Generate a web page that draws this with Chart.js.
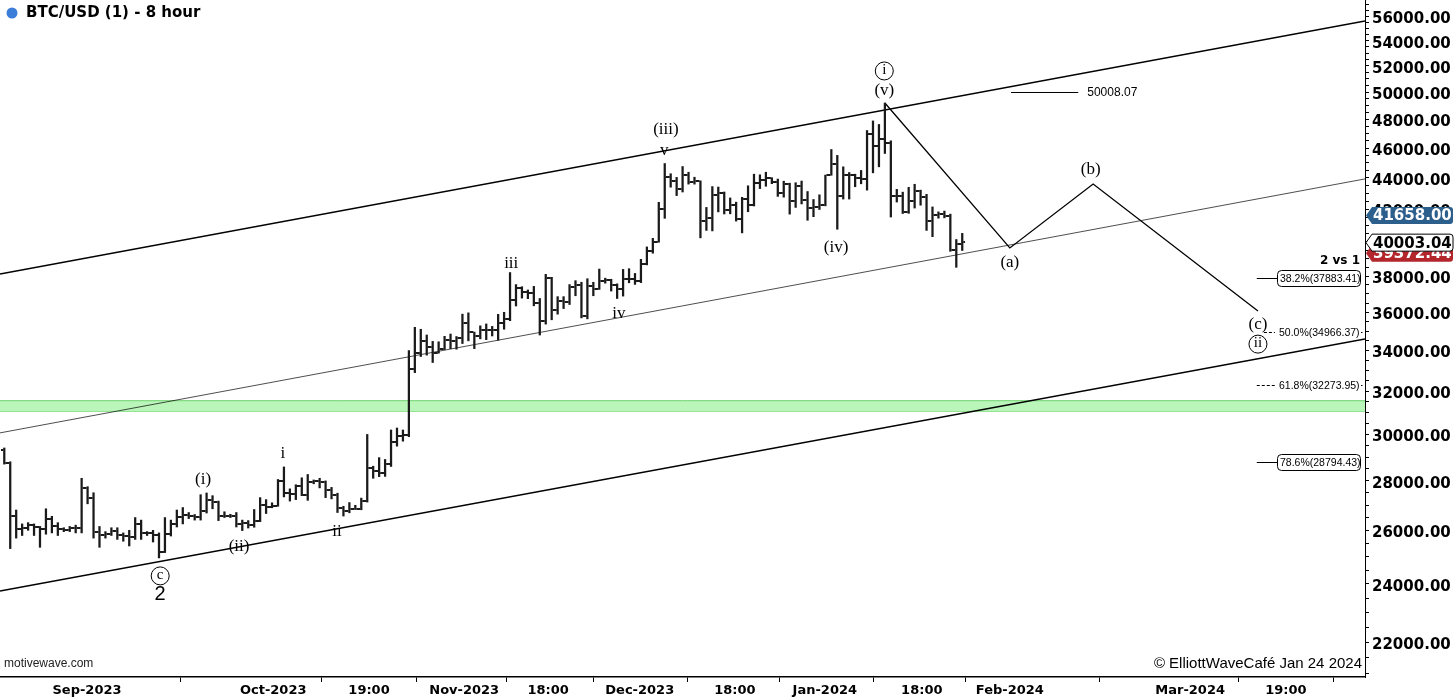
<!DOCTYPE html>
<html>
<head>
<meta charset="utf-8">
<script src="https://cdn.jsdelivr.net/npm/chart.js@4.4.1/dist/chart.umd.min.js"></script>
<style>
html, body { margin: 0; padding: 0; background: #fff; }
#wrap { width: 1456px; height: 699px; position: relative; }
</style>
</head>
<body>
<div id="wrap"><canvas id="myChart"></canvas></div>
<script>
// one bar per day, day 0 = 1 Oct 2023, first bar = 16 Aug 2023
const firstDay = -46;

const opens = [
29300,28750,26550,26050,26100,26190,26120,26050,26450,26150,
26050,26000,26090,26100,27700,27300,25940,25800,25870,25970,
25820,25780,25750,26240,25900,25890,25830,25160,25850,26230,
26530,26610,26570,26530,26760,27210,27130,26570,26580,26580,
26250,26300,26220,26370,27020,26910,26970,27980,27500,27430,
27790,27420,27950,27970,27930,27600,27390,26870,26760,26860,
26860,27160,28520,28420,28330,28720,29680,29920,29990,33090,
33900,34500,34160,33900,34100,34530,34500,34670,35440,34940,
34730,35080,35050,35040,35430,35650,36690,37310,37130,37060,
36490,35550,37880,36150,36600,36570,37390,37470,35810,37420,
37290,37720,37800,37480,37250,37830,37860,37720,38690,39460,
39980,41980,44080,43770,43290,44170,43730,43790,41240,41450,
42890,43020,41930,42240,41360,42660,42270,43650,43860,43990,
43740,43020,43610,42520,43440,42580,42070,42140,42280,44180,
44940,42850,44180,44160,43970,43930,46970,46120,46630,46370,
42850,42840,41800,42510,43150,42740,41260,41620,41660,41580,
39510,39870];
const highs = [
29400,28800,26800,26250,26300,26250,26150,26850,26550,26300,
26100,26150,26200,28100,27750,27500,26150,25950,26100,26100,
25900,26000,26500,26400,25950,26000,25900,26500,26400,26800,
26900,26700,26620,27420,27490,27380,27160,26730,26630,26700,
26400,26380,26820,27300,27220,27090,28050,28580,27660,27830,
28120,28260,28030,28100,27990,27720,27480,26950,27100,26990,
27280,30000,28610,28980,28900,30200,30290,30200,34000,35200,
35100,34800,34470,34450,34730,34850,34720,35900,35970,34950,
35280,35380,35250,35890,36000,38200,37520,37400,37220,37420,
36750,38100,37930,36850,36850,37520,37740,37650,37850,37650,
38400,37880,37820,37560,38380,38420,38150,38960,39690,40200,
42420,44950,44270,44030,44750,44370,44040,43800,42100,43430,
43400,43080,42700,42430,42740,43480,44240,44200,44370,44010,
43920,43780,43650,43680,43790,43110,42600,42900,44180,45900,
45500,44730,44350,44240,44490,47220,47900,47650,49200,46500,
43250,43070,43380,43580,43200,42930,42130,41820,41870,41680,
40130,40500];
const lows = [
28700,25300,25700,25800,26000,25800,25350,25850,25900,25800,
25950,25950,25900,25900,27050,25700,25350,25700,25800,25650,
25580,25400,25650,25650,25800,25550,24950,25150,25780,26130,
26250,26460,26400,26400,26680,26850,26380,26500,26500,26130,
25990,26090,26120,26340,26660,26890,26950,27330,27160,27220,
27380,27190,27870,27700,27300,27250,26700,26560,26690,26820,
26810,27120,28100,28170,28180,28600,29480,29700,29900,32900,
33700,33770,33400,33870,34050,34100,34070,34360,34500,34100,
34600,34560,34750,34530,35100,35550,36340,36770,36740,36350,
34800,35370,35600,35900,36200,36420,36900,35700,35650,36900,
37250,37600,37160,36750,36880,37620,37530,37630,38640,39320,
39970,41420,43390,42850,43080,43590,43590,40230,40680,40650,
41820,41690,41700,41250,40530,41830,42190,43300,43450,43620,
42800,42750,41680,42100,42320,41300,41520,41970,42200,44170,
40750,42630,42630,43420,43610,43200,44330,44730,45630,41500,
42440,41720,41730,42060,42240,40680,40300,41430,41450,39430,
38500,39480];
const closes = [
28750,26550,26050,26100,26190,26120,26050,26450,26150,26050,
26000,26090,26100,27700,27300,25940,25800,25870,25970,25820,
25780,25750,26240,25900,25890,25830,25160,25850,26230,26530,
26610,26570,26530,26760,27210,27130,26570,26580,26580,26250,
26300,26220,26370,27020,26910,26970,27980,27500,27430,27790,
27420,27950,27970,27930,27600,27390,26870,26760,26860,26860,
27160,28520,28420,28330,28720,29680,29920,29990,33090,33900,
34500,34160,33900,34100,34530,34500,34670,35440,34940,34730,
35080,35050,35040,35430,35650,36690,37310,37130,37060,36490,
35550,37880,36150,36600,36570,37390,37470,35810,37420,37290,
37720,37800,37480,37250,37830,37860,37720,38690,39460,39980,
41980,44080,43770,43290,44170,43730,43790,41240,41450,42890,
43020,41930,42240,41360,42660,42270,43650,43860,43990,43740,
43020,43610,42520,43440,42580,42070,42140,42280,44180,44940,
42850,44180,44160,43970,43930,46970,46120,46630,46370,42850,
42840,41800,42510,43150,42740,41260,41620,41660,41580,39510,
39870,40003.04];

// axis
const xMin = -46.22, xMax = 183.19;
const yMin = 20888, yMax = 57376;
const xTickDays = [-31.6, -0.3, 15.8, 31.8, 45.9, 61.3, 77.3, 92.4, 108.7, 123.5, 153.8, 169.9];
const xTickLabels = ['Sep-2023','Oct-2023','19:00','Nov-2023','18:00','Dec-2023','18:00','Jan-2024','18:00','Feb-2024','Mar-2024','19:00'];
const yTickValues = [22000,24000,26000,28000,30000,32000,34000,36000,38000,40000,42000,44000,46000,48000,50000,52000,54000,56000];

// channel, zone and projection
const channelDays = [xMin, xMax];
const upperLine = [38120, 55610];
const middleLine = [30070, 43930];
const lowerLine = [23750, 34590];
const zoneRange = [31050, 31550];
const pathDays = [102.5, 123.5, 137.5, 165.2];
const pathPrices = [49200, 39630, 43600, 36070];
const targetDays = [123.7, 135.0];
const targetPrice = 50008.07;

// fib levels
const fibValues = [37883.41, 34966.37, 32273.95, 28794.43];
const fibLabels = ['38.2%(37883.41)', '50.0%(34966.37)', '61.8%(32273.95)', '78.6%(28794.43)'];
const fibBoxed = [true, false, false, true];
const fibStart = [165.0, 166.2, 165.0, 165.0];

// wave counts
const waveText  = ['c','2','(i)','(ii)','i','ii','iii','iv','(iii)','v','(iv)','i','(v)','(a)','(b)','(c)','ii'];
const waveDay   = [-19.3,-19.3,-12.1,-6.05,1.34,10.4,39.7,57.8,65.7,65.4,94.3,102.4,102.4,123.5,137.1,165.2,165.2];
const wavePrice = [24290,23610,28030,25360,29140,25970,38690,35910,47260,45800,39630,51610,50090,38750,44520,35330,34330];
const waveKind  = ['circle','sans','serif','serif','serif','serif','serif','serif','serif','serif','serif','circle','serif','serif','serif','serif','circle'];

// price markers on the axis
const markerValues = [41658.00, 39372.44, 40003.04];
const markerFill = ['#2d5f8c', '#b3262c', '#ffffff'];
const markerText = ['#ffffff', '#ffffff', '#000000'];

function tickImg(left) {
    var c = document.createElement('canvas');
    c.width = 6; c.height = 2;
    var g = c.getContext('2d');
    g.fillStyle = '#1a1a1a';
    g.fillRect(left ? 0 : 4, 0, 2, 2);
    return c;
}

function twoPoints(days, vals) {
    return [{x: days[0], y: vals[0]}, {x: days[1], y: vals[1]}];
}

const barDays = highs.map((h, i) => firstDay + i + 0.5);

const overlay = {
  id: 'overlay',
  afterDatasetsDraw(chart) {
    const ctx = chart.ctx, xs = chart.scales.x, ys = chart.scales.y;
    const X = d => xs.getPixelForValue(d);
    const Y = p => ys.getPixelForValue(p);
    ctx.save();
    ctx.fillStyle = '#000';
    ctx.strokeStyle = '#000';

    // wave labels
    ctx.textAlign = 'center';
    ctx.textBaseline = 'middle';
    for (var i = 0; i < waveText.length; i++) {
        var x = X(waveDay[i]), y = Y(wavePrice[i]);
        if (waveKind[i] === 'circle') {
            ctx.beginPath();
            ctx.arc(x, y, 9, 0, Math.PI * 2);
            ctx.lineWidth = 1;
            ctx.stroke();
            ctx.font = '15px "Liberation Serif"';
            ctx.fillText(waveText[i], x, y - 1);
        } else if (waveKind[i] === 'sans') {
            ctx.font = '20px "Liberation Sans"';
            ctx.fillText(waveText[i], x, y);
        } else {
            ctx.font = '17px "Liberation Serif"';
            ctx.fillText(waveText[i], x, y);
        }
    }

    // target line
    var ty = Math.round(Y(targetPrice)) + 0.5;
    ctx.lineWidth = 1;
    ctx.beginPath();
    ctx.moveTo(X(targetDays[0]), ty);
    ctx.lineTo(X(targetDays[1]), ty);
    ctx.stroke();
    ctx.font = '12px "Liberation Sans"';
    ctx.textAlign = 'left';
    ctx.fillText(targetPrice.toFixed(2), X(targetDays[1]) + 9, ty);

    // fib levels
    var boxX = X(168.4);
    for (var k = 0; k < fibValues.length; k++) {
        var fy = Math.round(Y(fibValues[k])) + 0.5;
        ctx.font = '10.5px "Liberation Sans"';
        ctx.textAlign = 'left';
        if (fibBoxed[k]) {
            ctx.setLineDash([]);
            ctx.beginPath();
            ctx.moveTo(X(fibStart[k]), fy);
            ctx.lineTo(boxX, fy);
            ctx.stroke();
            ctx.beginPath();
            ctx.roundRect(boxX + 0.5, fy - 8, 83, 16, 4);
            ctx.fillStyle = '#fff';
            ctx.fill();
            ctx.stroke();
            ctx.fillStyle = '#000';
            ctx.fillText(fibLabels[k], boxX + 3, fy + 0.5);
        } else {
            ctx.setLineDash([3, 2]);
            ctx.beginPath();
            ctx.moveTo(X(fibStart[k]), fy);
            ctx.lineTo(boxX - 2, fy);
            ctx.stroke();
            ctx.setLineDash([]);
            ctx.fillText(fibLabels[k], boxX + 2, fy + 0.5);
            ctx.fillRect(boxX + 84, fy - 0.5, 1.5, 1);
        }
    }
    ctx.font = 'bold 12px "DejaVu Sans"';
    ctx.textAlign = 'right';
    ctx.fillText('2 vs 1', xs.right - 5, Y(fibValues[0]) - 17);

    // title
    ctx.beginPath();
    ctx.arc(12, 13, 5.5, 0, Math.PI * 2);
    ctx.fillStyle = '#3b7dd8';
    ctx.fill();
    ctx.fillStyle = '#000';
    ctx.textAlign = 'left';
    ctx.font = 'bold 15px "DejaVu Sans"';
    ctx.fillText('BTC/USD (1) - 8 hour', 26, 13);

    // watermarks
    ctx.font = '12px "Liberation Sans"';
    ctx.fillStyle = '#222';
    ctx.fillText('motivewave.com', 4, xs.top - 13);
    ctx.font = '15px "Liberation Sans"';
    ctx.fillStyle = '#000';
    ctx.textAlign = 'right';
    ctx.fillText('\u00a9 ElliottWaveCaf\u00e9 Jan 24 2024', xs.right - 3, xs.top - 13);

    // axis price markers
    ctx.font = 'bold 15px "DejaVu Sans"';
    ctx.textAlign = 'left';
    for (var m = 0; m < markerValues.length; m++) {
        var my = Y(markerValues[m]) + 1;
        var x0 = ys.left + 1, x1 = chart.width - 3;
        ctx.beginPath();
        ctx.moveTo(x0, my);
        ctx.lineTo(x0 + 6, my - 8.5);
        ctx.lineTo(x1 - 3, my - 8.5);
        ctx.quadraticCurveTo(x1, my - 8.5, x1, my - 5.5);
        ctx.lineTo(x1, my + 5.5);
        ctx.quadraticCurveTo(x1, my + 8.5, x1 - 3, my + 8.5);
        ctx.lineTo(x0 + 6, my + 8.5);
        ctx.closePath();
        ctx.fillStyle = markerFill[m];
        ctx.fill();
        if (markerFill[m] === '#ffffff') {
            ctx.lineWidth = 1;
            ctx.strokeStyle = '#000';
            ctx.stroke();
        }
        ctx.fillStyle = markerText[m];
        ctx.fillText(markerValues[m].toFixed(2), x0 + 7, my + 1);
    }
    ctx.restore();
  }
};

window.onload = (event) => {

var myChart = new Chart(
  document.getElementById('myChart'),
  {
    type: 'bar',
    data: {
      datasets: [
        {
          type: 'line', label: 'zone low',
          data: twoPoints(channelDays, [zoneRange[0], zoneRange[0]]),
          borderColor: '#6fd36f', borderWidth: 1, pointRadius: 0, fill: false, order: 20
        },
        {
          type: 'line', label: 'zone high',
          data: twoPoints(channelDays, [zoneRange[1], zoneRange[1]]),
          borderColor: '#6fd36f', borderWidth: 1, pointRadius: 0,
          fill: '-1', backgroundColor: 'rgba(178,244,178,0.9)', order: 19
        },
        {
          type: 'line', label: 'upper',
          data: twoPoints(channelDays, upperLine),
          borderColor: '#000', borderWidth: 1.4, pointRadius: 0, order: 10
        },
        {
          type: 'line', label: 'middle',
          data: twoPoints(channelDays, middleLine),
          borderColor: '#000', borderWidth: 0.7, pointRadius: 0, order: 10
        },
        {
          type: 'line', label: 'lower',
          data: twoPoints(channelDays, lowerLine),
          borderColor: '#000', borderWidth: 1.4, pointRadius: 0, order: 10
        },
        {
          type: 'line', label: 'projection',
          data: pathDays.map((d, i) => ({x: d, y: pathPrices[i]})),
          borderColor: '#000', borderWidth: 1.3, pointRadius: 0, order: 9
        },
        {
          type: 'bar', label: 'BTC/USD',
          data: barDays.map((d, i) => ({x: d, y: [lows[i], highs[i]]})),
          backgroundColor: '#1a1a1a', barThickness: 1.6, grouped: false, order: 2
        },
        {
          type: 'scatter', label: 'open',
          data: barDays.map((d, i) => ({x: d, y: opens[i]})),
          pointStyle: tickImg(true), pointRadius: 3, order: 1
        },
        {
          type: 'scatter', label: 'close',
          data: barDays.map((d, i) => ({x: d, y: closes[i]})),
          pointStyle: tickImg(false), pointRadius: 3, order: 1
        }
      ]
    },
    options: {
      responsive: true,
      maintainAspectRatio: false,
      animation: false,
      layout: { padding: 0, autoPadding: false },
      plugins: { legend: { display: false }, tooltip: { enabled: false } },
      scales: {
        x: {
          type: 'linear', min: xMin, max: xMax, bounds: 'data', offset: false,
          grid: { drawOnChartArea: false, tickLength: 5, color: '#000' },
          border: { color: '#000', width: 1.5 },
          ticks: {
            autoSkip: false, maxRotation: 0, padding: 1, color: '#000',
            font: { family: 'DejaVu Sans', weight: 'bold', size: 13 },
            callback: (v, i) => xTickLabels[i]
          },
          afterBuildTicks: s => { s.ticks = xTickDays.map(v => ({value: v})); },
          afterFit: s => { s.height = 22; s.paddingLeft = 0; s.paddingRight = 0; }
        },
        y: {
          type: 'logarithmic', position: 'right', min: yMin, max: yMax, bounds: 'data',
          grid: { drawOnChartArea: false, tickLength: 4, color: '#000' },
          border: { color: '#000', width: 1 },
          ticks: {
            autoSkip: false, padding: 3, labelOffset: 3, color: '#000',
            font: { family: 'DejaVu Sans', weight: 'bold', size: 15 },
            callback: v => yTickValues.includes(v) ? v.toFixed(2) : ''
          },
          afterBuildTicks: s => {
            var t = [];
            for (var v = 21000; v <= 57000; v += 500) t.push({value: v});
            s.ticks = t;
          },
          afterFit: s => { s.width = 91; s.paddingTop = 0; s.paddingBottom = 0; }
        }
      }
    },
    plugins: [overlay]
  }
);

};
</script>
</body>
</html>
